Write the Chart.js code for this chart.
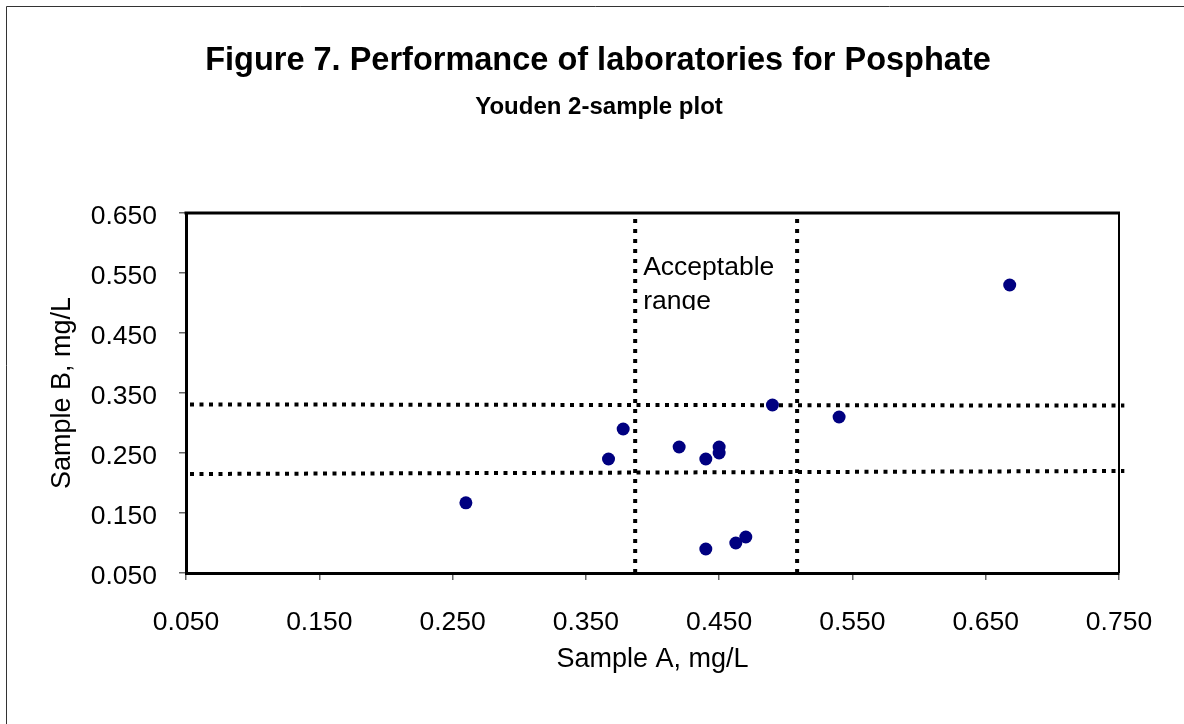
<!DOCTYPE html>
<html>
<head>
<meta charset="utf-8">
<script src="https://cdn.jsdelivr.net/npm/chart.js@4.4.1/dist/chart.umd.min.js"></script>
<style>
  html, body { margin: 0; padding: 0; background: #fff; }
  #wrap { position: relative; width: 1184px; height: 724px; }
</style>
</head>
<body>
<div id="wrap"><canvas id="c" width="1184" height="724"></canvas></div>
<script>
// ---- Data ----
const sampleA = [0.260, 0.367, 0.378, 0.420, 0.440, 0.450, 0.450, 0.490, 0.540, 0.668, 0.440, 0.4625, 0.470];
const sampleB = [0.167, 0.240, 0.290, 0.260, 0.240, 0.260, 0.250, 0.330, 0.310, 0.530, 0.090, 0.100, 0.110];
const xTickValues = [0.05, 0.15, 0.25, 0.35, 0.45, 0.55, 0.65, 0.75];
const yTickValues = [0.05, 0.15, 0.25, 0.35, 0.45, 0.55, 0.65];
const limitsA = [0.387, 0.5085];          // vertical acceptable-range limits (Sample A)
const lowerB = [0.215, 0.220];            // lower limit for Sample B (left end, right end)
const upperB = [0.331, 0.329];            // upper limit for Sample B (left end, right end)
const limitSpanX = [0.053, 0.754];        // x extent of the horizontal limit lines
const limitSpanY = [0.05, 0.65];          // y extent of the vertical limit lines
const titleText = 'Figure 7. Performance of laboratories for Posphate';
const subtitleText = 'Youden 2-sample plot';
const xTitle = 'Sample A, mg/L';
const yTitle = 'Sample B, mg/L';
const rangeLabel = ['Acceptable', 'range'];

const FONT = '"Liberation Sans", Arial, Helvetica, sans-serif';

const points = sampleA.map((a, i) => ({ x: a, y: sampleB[i] }));

const hLine = (vals) => ({
  type: 'scatter',
  data: [{ x: limitSpanX[0], y: vals[0] }, { x: limitSpanX[1], y: vals[1] }],
  showLine: true, pointRadius: 0, borderColor: '#000', borderWidth: 4,
  borderDash: [4, 5.5], borderCapStyle: 'butt', clip: false, order: 2
});
const vLine = (v) => ({
  type: 'scatter',
  data: [{ x: v, y: limitSpanY[0] }, { x: v, y: limitSpanY[1] }],
  showLine: true, pointRadius: 0, borderColor: '#000', borderWidth: 4,
  borderDash: [4, 6], borderCapStyle: 'butt', clip: false, order: 2
});

const decorPlugin = {
  id: 'decor',
  afterDatasetsDraw(chart) {
    const { ctx, chartArea: ca } = chart;
    ctx.save();
    ctx.strokeStyle = '#000';
    ctx.lineWidth = 3;
    ctx.beginPath(); ctx.moveTo(ca.left - 1.5, ca.top); ctx.lineTo(ca.right + 1, ca.top); ctx.stroke();
    ctx.lineWidth = 2;
    ctx.beginPath(); ctx.moveTo(ca.right, ca.top); ctx.lineTo(ca.right, ca.bottom); ctx.stroke();
    ctx.restore();
  },
  afterDraw(chart) {
    const { ctx, chartArea: ca, scales } = chart;
    ctx.save();
    ctx.strokeStyle = '#333';
    ctx.lineWidth = 1;
    ctx.beginPath(); ctx.moveTo(6.5, 724); ctx.lineTo(6.5, 6.5); ctx.lineTo(1184, 6.5); ctx.stroke();

    ctx.fillStyle = '#000';
    ctx.textAlign = 'center';
    ctx.textBaseline = 'alphabetic';
    ctx.font = 'bold 32.5px ' + FONT;
    ctx.fillText(titleText, 598, 70);
    ctx.font = 'bold 24px ' + FONT;
    ctx.fillText(subtitleText, 599, 114);

    ctx.font = '27px ' + FONT;
    ctx.fillText(xTitle, (ca.left + ca.right) / 2, 667);
    ctx.save();
    ctx.translate(70, (ca.top + ca.bottom) / 2);
    ctx.rotate(-Math.PI / 2);
    ctx.fillText(yTitle, 0, 0);
    ctx.restore();

    const x0 = scales.x.getPixelForValue(limitsA[0]);
    ctx.save();
    ctx.beginPath();
    ctx.rect(x0 + 3, ca.top + 3, 160, 310 - ca.top - 3);
    ctx.clip();
    ctx.font = '26.5px ' + FONT;
    ctx.textAlign = 'left';
    ctx.fillText(rangeLabel[0], x0 + 8, 275);
    ctx.fillText(rangeLabel[1], x0 + 8, 309);
    ctx.restore();
    ctx.restore();
  }
};

new Chart(document.getElementById('c'), {
  type: 'scatter',
  data: {
    datasets: [
      {
        data: points, pointRadius: 6.5, pointHoverRadius: 6.5,
        backgroundColor: '#000080', borderColor: '#000080', borderWidth: 0, order: 0
      },
      hLine(upperB), hLine(lowerB), vLine(limitsA[0]), vLine(limitsA[1])
    ]
  },
  options: {
    responsive: false,
    animation: false,
    devicePixelRatio: 1,
    layout: { padding: { top: 213, right: 65, left: 0, bottom: 0 } },
    plugins: { legend: { display: false }, tooltip: { enabled: false }, title: { display: false } },
    scales: {
      x: {
        type: 'linear', min: 0.05, max: 0.75,
        afterBuildTicks: (s) => { s.ticks = xTickValues.map(v => ({ value: v })); },
        afterFit: (s) => { s.height = 151; },
        ticks: { color: '#000', font: { family: FONT, size: 26.5 }, padding: 27, maxRotation: 0,
                 callback: (v) => Number(v).toFixed(3) },
        grid: { drawOnChartArea: false, drawTicks: true, tickLength: 7, color: '#666', lineWidth: 1.5 },
        border: { display: true, color: '#000', width: 3 }
      },
      y: {
        type: 'linear', min: 0.05, max: 0.65,
        afterBuildTicks: (s) => { s.ticks = yTickValues.map(v => ({ value: v })); },
        afterFit: (s) => { s.width = 186; },
        ticks: { color: '#000', font: { family: FONT, size: 26.5 }, padding: 22, labelOffset: 4,
                 callback: (v) => Number(v).toFixed(3) },
        grid: { drawOnChartArea: false, drawTicks: true, tickLength: 7, color: '#666', lineWidth: 1.5 },
        border: { display: true, color: '#000', width: 3 }
      }
    }
  },
  plugins: [decorPlugin]
});
</script>
</body>
</html>
